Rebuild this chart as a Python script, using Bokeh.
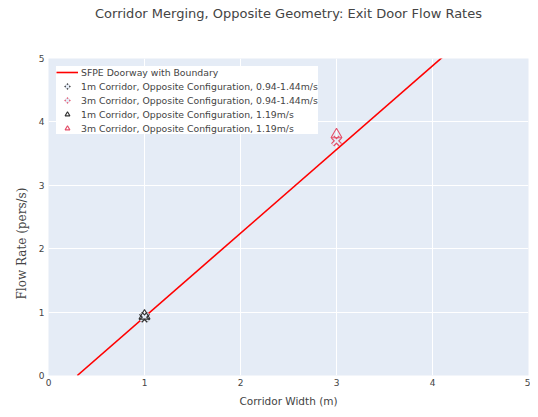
from bokeh.plotting import figure
from bokeh.models import Range1d, Legend, LegendItem, FixedTicker, Title
from bokeh.embed import file_html
from bokeh.resources import INLINE

# ---- data ----
title_text = "Corridor Merging, Opposite Geometry: Exit Door Flow Rates"
x_label = "Corridor Width (m)"
y_label = "Flow Rate (pers/s)"

sfpe_width = [0.3, 5.0]
sfpe_flow = [0.0, 6.204]

w_1m_range = [1.0]
f_1m_range = [0.92]
w_3m_range = [3.0]
f_3m_range = [3.70]
w_1m_119 = [1.0]
f_1m_119 = [0.94]
w_3m_119 = [3.0]
f_3m_119 = [3.80]

ticks = [0, 1, 2, 3, 4, 5]

labels = [
    "SFPE Doorway with Boundary",
    "1m Corridor, Opposite Configuration, 0.94-1.44m/s",
    "3m Corridor, Opposite Configuration, 0.94-1.44m/s",
    "1m Corridor, Opposite Configuration, 1.19m/s",
    "3m Corridor, Opposite Configuration, 1.19m/s",
]

BG = "#E5ECF6"
FONT = "DejaVu Sans"
TXT = "#444444"
DARK = "#333333"
PINK = "#E4506A"

p = figure(output_backend="svg", toolbar_location=None,
           width=530, height=409,
           min_border_left=48, min_border_right=2,
           min_border_top=58, min_border_bottom=31,
           x_range=Range1d(0, 5), y_range=Range1d(0, 5),
           background_fill_color=BG, border_fill_color="white",
           outline_line_color=None)

# real title (outer panel, near the top edge)
p.title.text = title_text
p.title.align = "center"
p.title.vertical_align = "top"
p.title.standoff = 10
p.title.text_font = FONT
p.title.text_font_size = "13px"
p.title.text_font_style = "normal"
p.title.text_color = TXT

# inner spacer between the title and the plot frame
spacer = Title(text=" ", text_font_size="13px", standoff=14)
p.add_layout(spacer, "above")

for ax in (p.xaxis[0], p.yaxis[0]):
    ax.ticker = FixedTicker(ticks=ticks)
    ax.axis_line_color = None
    ax.major_tick_line_color = None
    ax.minor_tick_line_color = None
    ax.major_tick_out = 0
    ax.major_tick_in = 0
    ax.minor_tick_out = 0
    ax.minor_tick_in = 0
    ax.major_label_text_font = FONT
    ax.major_label_text_font_size = "9px"
    ax.major_label_text_color = TXT
    ax.axis_label_text_color = TXT
    ax.axis_label_text_font_style = "normal"

p.xaxis.axis_label = x_label
p.xaxis.axis_label_text_font = FONT
p.xaxis.axis_label_text_font_size = "10.5px"
p.xaxis.major_label_standoff = 3
p.xaxis.axis_label_standoff = 6

p.yaxis.major_label_standoff = 4

ytitle = Title(text=y_label, align="left", offset=76, standoff=14,
               text_font="DejaVu Serif", text_font_size="12px",
               text_font_style="normal", text_color=TXT)
p.add_layout(ytitle, "left")

p.grid.grid_line_color = "white"
p.grid.grid_line_width = 1
p.xgrid.ticker = FixedTicker(ticks=ticks)
p.ygrid.ticker = FixedTicker(ticks=ticks)

r_line = p.line(sfpe_width, sfpe_flow, line_color="red", line_width=1.6)

def xopen(xs, ys, color):
    a = p.scatter(xs, ys, marker="x", size=11, line_color=color, line_width=4.5)
    b = p.scatter(xs, ys, marker="x", size=11, line_color=BG, line_width=2)
    return [a, b]

r1 = xopen(w_1m_range, f_1m_range, DARK)
r2 = xopen(w_3m_range, f_3m_range, PINK)
r3 = p.scatter(w_1m_119, f_1m_119, marker="triangle", size=11, fill_color=None,
               line_color=DARK, line_width=1.1)
r4 = p.scatter(w_3m_119, f_3m_119, marker="triangle", size=11, fill_color=None,
               line_color=PINK, line_width=1.1)

legend = Legend(items=[
    LegendItem(label=labels[0], renderers=[r_line]),
    LegendItem(label=labels[1], renderers=r1),
    LegendItem(label=labels[2], renderers=r2),
    LegendItem(label=labels[3], renderers=[r3]),
    LegendItem(label=labels[4], renderers=[r4]),
], location="top_left")
legend.margin = 8
legend.padding = 8
legend.spacing = 2
legend.label_text_font = FONT
legend.label_text_font_size = "9.3px"
legend.label_text_color = TXT
legend.label_height = 12
legend.glyph_height = 12
legend.glyph_width = 22
legend.label_standoff = 3
legend.border_line_color = None
legend.background_fill_color = "white"
legend.background_fill_alpha = 1.0
p.add_layout(legend)

open("out.html", "w").write(file_html(p, INLINE))
